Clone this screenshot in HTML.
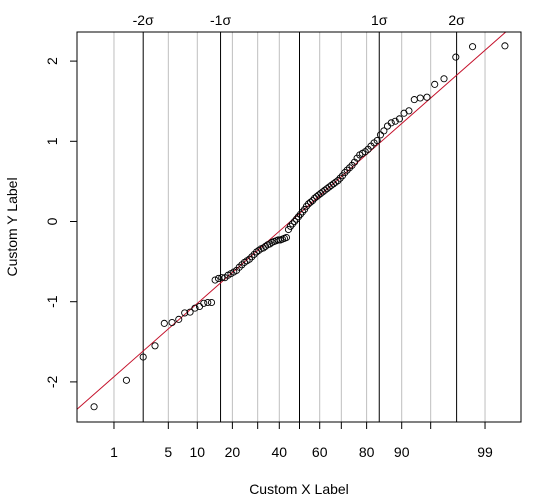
<!DOCTYPE html>
<html><head><meta charset="utf-8"><style>
body{margin:0;background:#fff}
svg{display:block;font-family:"Liberation Sans",Arial,sans-serif}
</style></head><body>
<svg id="c" width="543" height="500"></svg>
<script>
const sampleValues=[-2.31,-1.98,-1.69,-1.55,-1.27,-1.26,-1.22,-1.14,-1.13,-1.08,-1.06,-1.02,-1.01,-1.01,-0.73,-0.71,-0.70,-0.70,
-0.67,-0.65,-0.63,-0.61,-0.57,-0.54,-0.51,-0.49,-0.47,-0.44,-0.41,-0.38,-0.36,-0.34,-0.33,-0.31,-0.29,-0.28,-0.26,-0.25,-0.24,-0.23,
-0.23,-0.22,-0.21,-0.20,-0.10,-0.06,-0.03,0.00,0.03,0.06,0.09,0.12,0.15,0.19,0.22,0.24,0.26,0.29,0.31,0.33,0.35,0.37,0.39,0.41,0.43,
0.45,0.47,0.49,0.51,0.54,0.57,0.61,0.64,0.67,0.70,0.74,0.79,0.83,0.85,0.87,0.90,0.94,0.98,1.01,
1.08,1.13,1.19,1.23,1.25,1.28,1.35,1.38,1.52,1.54,1.55,1.71,1.78,2.05,2.18,2.19];
const percentTicks=[1,5,10,20,30,40,50,60,70,80,90,95,99];
const percentLabels=["1","5","10","20","","40","","60","","80","90","","99"];
const sigmaZ=[-1.96,-0.99,1.0,1.97];
const sigmaLabels=["-2σ","-1σ","1σ","2σ"];
const yTicks=[-2,-1,0,1,2];
const lineIntercept=0.10, lineSlope=0.875;

const L=77,R=521,T=32,B=422;
const sx=z=>299.5+z*79.75, sy=v=>221.5-v*80.2;
function qnorm(p){const a=[-39.6968302866538,220.946098424521,-275.928510446969,138.357751867269,-30.6647980661472,2.50662827745924],
b=[-54.4760987982241,161.585836858041,-155.698979859887,66.8013118877197,-13.2806815528857],
c=[-0.00778489400243029,-0.322396458041136,-2.40075827716184,-2.54973253934373,4.37466414146497,2.93816398269878],
d=[0.00778469570904146,0.32246712907004,2.445134137143,3.75440866190742];
let q,r;if(p<0.02425){q=Math.sqrt(-2*Math.log(p));return(((((c[0]*q+c[1])*q+c[2])*q+c[3])*q+c[4])*q+c[5])/((((d[0]*q+d[1])*q+d[2])*q+d[3])*q+1);}
if(p>1-0.02425){q=Math.sqrt(-2*Math.log(1-p));return-(((((c[0]*q+c[1])*q+c[2])*q+c[3])*q+c[4])*q+c[5])/((((d[0]*q+d[1])*q+d[2])*q+d[3])*q+1);}
q=p-0.5;r=q*q;return(((((a[0]*r+a[1])*r+a[2])*r+a[3])*r+a[4])*r+a[5])*q/(((((b[0]*r+b[1])*r+b[2])*r+b[3])*r+b[4])*r+1);}
const svg=document.getElementById('c');const NS="http://www.w3.org/2000/svg";
function mk(t,at,txt){const e=document.createElementNS(NS,t);for(const k in at)e.setAttribute(k,at[k]);if(txt!==undefined)e.textContent=txt;svg.appendChild(e);return e;}
percentTicks.forEach((p,i)=>{const x=sx(qnorm(p/100));
 if(p!==50){const g=mk('line',{x1:x,x2:x,y1:T,y2:B,stroke:'#bebebe','stroke-width':1});
 
 }
 const t=mk('line',{x1:x,x2:x,y1:B,y2:B+7,stroke:'#000'});
 
 
 if(percentLabels[i]){const l=mk('text',{x:x,y:457,'text-anchor':'middle','font-size':14},percentLabels[i]);
 
 }
});
const mid=mk('line',{x1:sx(0),x2:sx(0),y1:T,y2:B,stroke:'#000'});


sigmaZ.forEach((z,i)=>{const x=sx(z);
 const s=mk('line',{x1:x,x2:x,y1:T,y2:B,stroke:'#000'});
 
 
 const l=mk('text',{x:x,y:25,'text-anchor':'middle','font-size':14},sigmaLabels[i]);
 
 
});
yTicks.forEach(v=>{const y=sy(v);
 const t=mk('line',{x1:L-7,x2:L,y1:y,y2:y,stroke:'#000'});
 
 
 const l=mk('text',{x:0,y:0,'text-anchor':'middle','font-size':14,transform:`translate(57,${y}) rotate(-90)`},String(v));
 
 
});
const z0=(L-299.5)/79.75, z1=(R-299.5)/79.75;
const cp=mk('clipPath',{id:'clip'});const cr=document.createElementNS(NS,'rect');
cr.setAttribute('x',L);cr.setAttribute('y',T);cr.setAttribute('width',R-L);cr.setAttribute('height',B-T);cp.appendChild(cr);
const rl=mk('line',{x1:sx(z0),y1:sy(lineIntercept+lineSlope*z0),x2:sx(z1),y2:sy(lineIntercept+lineSlope*z1),stroke:'#c4102a','stroke-width':1,'clip-path':'url(#clip)'});


const n=sampleValues.length;
sampleValues.forEach((v,i)=>{const z=qnorm((i+0.5)/n);
 const c=mk('circle',{cx:sx(z),cy:sy(v),r:3.1,fill:'none',stroke:'#000','stroke-width':0.9});
 
 
});
const box=mk('rect',{x:L,y:T,width:R-L,height:B-T,fill:'none',stroke:'#000'});


const xt=mk('text',{x:299,y:494,'text-anchor':'middle','font-size':14},'Custom X Label');


const yt=mk('text',{x:0,y:0,'text-anchor':'middle','font-size':14,transform:'translate(17,227) rotate(-90)'},'Custom Y Label');


</script>
</body></html>
